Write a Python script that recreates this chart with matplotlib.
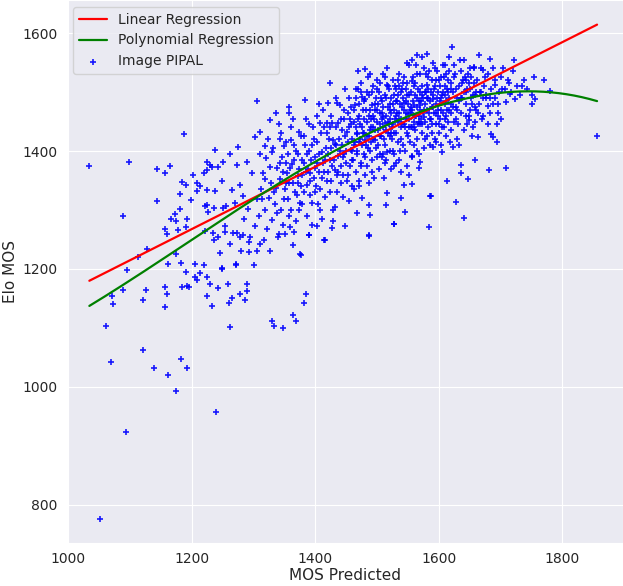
import numpy as np
import seaborn as sns
from matplotlib import pyplot as plt

# scatter values, (MOS predicted, Elo MOS)
left_tail = [
    (1034, 1375), (1051, 777), (1061, 1104), (1069, 1042), (1070, 1155), (1073, 1140), (1089, 1289),
    (1089, 1164), (1093, 923), (1095, 1198), (1098, 1382), (1112, 1220), (1121, 1063), (1121, 1148),
    (1125, 1164), (1127, 1234), (1138, 1032), (1144, 1316), (1144, 1370), (1157, 1362), (1157, 1136),
    (1157, 1170), (1159, 1158), (1157, 1267), (1160, 1260), (1161, 1209), (1161, 1021), (1165, 1374),
    (1166, 1284), (1172, 1294), (1174, 1225), (1174, 1281), (1174, 993), (1178, 1266), (1180, 1327),
    (1181, 1301), (1182, 1211), (1182, 1047), (1184, 1169), (1184, 1347), (1188, 1428), (1190, 1195),
    (1190, 1272), (1191, 1342), (1192, 1172), (1192, 1284), (1192, 1033), (1196, 1169), (1199, 1317),
    (1201, 1360), (1205, 1209), (1205, 1187), (1208, 1181), (1209, 1346), (1209, 1333), (1213, 1193),
    (1220, 1206), (1220, 1362), (1221, 1307), (1224, 1381), (1225, 1187), (1225, 1155), (1226, 1297),
    (1229, 1175), (1232, 1373), (1233, 1137), (1234, 1261), (1238, 1402), (1238, 1332), (1239, 957),
    (1243, 1167), (1243, 1254), (1248, 1350), (1249, 1202), (1251, 1381), (1253, 1273), (1255, 1306),
    (1259, 1175), (1260, 1143), (1262, 1101), (1262, 1242), (1262, 1395), (1265, 1151), (1265, 1334),
    (1270, 1312), (1271, 1207), (1273, 1261), (1273, 1377), (1278, 1158), (1278, 1343), (1282, 1257),
    (1283, 1323), (1285, 1284), (1286, 1148), (1289, 1162), (1289, 1382), (1290, 1175), (1291, 1301),
    (1293, 1228), (1294, 1254), (1297, 1363), (1300, 1207), (1302, 1273), (1305, 1319),
    (1224, 1368), (1229, 1376), (1243, 1373), (1213, 1340), (1224, 1334), (1224, 1308), (1235, 1304),
    (1251, 1304), (1221, 1264), (1235, 1249), (1254, 1262), (1267, 1261), (1246, 1227), (1278, 1255),
    (1292, 1246), (1272, 1208), (1248, 1200), (1275, 1407), (1279, 1231), (1306, 1231),
]

lower_band = [
    (1310, 1242), (1327, 1230), (1375, 1225), (1363, 1240), (1341, 1259), (1359, 1271), (1389, 1258),
    (1415, 1250), (1427, 1269), (1402, 1273), (1429, 1281), (1448, 1273), (1467, 1295), (1487, 1308),
    (1489, 1292), (1514, 1308), (1528, 1276), (1486, 1257), (1369, 1111), (1333, 1103), (1347, 1100),
    (1330, 1112), (1385, 1157), (1382, 1143), (1364, 1122), (1377, 1224), (1487, 1256), (1584, 1272),
    (1640, 1286), (1627, 1314), (1527, 1276), (1545, 1296), (1414, 1249), (1390, 1257),
    (1516, 1329), (1538, 1321), (1587, 1324), (1586, 1323), (1613, 1350), (1544, 1342), (1557, 1344),
    (1538, 1364), (1552, 1360), (1557, 1392), (1568, 1372), (1570, 1382),
]

upper_band = [
    (1302, 1424), (1311, 1432), (1318, 1409), (1343, 1421), (1305, 1484), (1424, 1516), (1448, 1505),
    (1383, 1486), (1357, 1474), (1357, 1465), (1336, 1465), (1327, 1452), (1341, 1446), (1406, 1480),
    (1420, 1482), (1435, 1481), (1481, 1539), (1469, 1535), (1580, 1565), (1565, 1562), (1640, 1555),
]

core = [
    (1308, 1290), (1312, 1335), (1315, 1362), (1318, 1300), (1320, 1388), (1322, 1268), (1325, 1320),
    (1328, 1345), (1330, 1283), (1332, 1405), (1335, 1310), (1337, 1372), (1339, 1255), (1310, 1395),
    (1316, 1250), (1323, 1420), (1333, 1330), (1338, 1295), (1326, 1373), (1313, 1318),
    (1342, 1352), (1344, 1300), (1346, 1390), (1348, 1275), (1350, 1335), (1352, 1415), (1354, 1362),
    (1356, 1318), (1358, 1290), (1360, 1440), (1362, 1378), (1364, 1345), (1366, 1262), (1368, 1400),
    (1370, 1325), (1372, 1357), (1374, 1300), (1376, 1425), (1378, 1385), (1345, 1430), (1349, 1318),
    (1353, 1380), (1357, 1345), (1361, 1300), (1365, 1410), (1369, 1282), (1373, 1370), (1377, 1340),
    (1351, 1260), (1363, 1455), (1367, 1330), (1371, 1395), (1375, 1312), (1379, 1360), (1347, 1365),
    (1355, 1395),
    (1381, 1330), (1383, 1410), (1385, 1365), (1387, 1290), (1389, 1445), (1391, 1350), (1393, 1385),
    (1395, 1312), (1397, 1420), (1399, 1372), (1401, 1340), (1403, 1460), (1405, 1395), (1407, 1300),
    (1409, 1430), (1411, 1355), (1413, 1380), (1415, 1322), (1417, 1405), (1419, 1448), (1382, 1380),
    (1386, 1342), (1390, 1400), (1394, 1275), (1398, 1355), (1402, 1415), (1406, 1365), (1410, 1285),
    (1414, 1440), (1418, 1350), (1384, 1455), (1392, 1325), (1400, 1390), (1408, 1335), (1416, 1385),
    (1388, 1370), (1396, 1440), (1404, 1310), (1412, 1470), (1420, 1365),
    (1421, 1395), (1423, 1330), (1425, 1460), (1427, 1375), (1429, 1418), (1431, 1305), (1433, 1440),
    (1435, 1360), (1437, 1392), (1439, 1478), (1441, 1345), (1443, 1410), (1445, 1322), (1447, 1455),
    (1449, 1380), (1451, 1432), (1453, 1360), (1455, 1490), (1457, 1402), (1459, 1340), (1422, 1420),
    (1426, 1350), (1430, 1385), (1434, 1490), (1438, 1420), (1442, 1375), (1446, 1470), (1450, 1400),
    (1454, 1315), (1458, 1445), (1424, 1440), (1428, 1300), (1432, 1368), (1436, 1448), (1440, 1400),
    (1444, 1360), (1448, 1425), (1452, 1465), (1456, 1375), (1460, 1420), (1425, 1405), (1435, 1330),
    (1445, 1390), (1455, 1440), (1431, 1412), (1441, 1455), (1451, 1350), (1457, 1475),
    (1461, 1385), (1462, 1450), (1463, 1335), (1464, 1415), (1465, 1490), (1466, 1365), (1467, 1430),
    (1468, 1400), (1469, 1505), (1470, 1350), (1471, 1460), (1472, 1420), (1473, 1380), (1474, 1515),
    (1475, 1440), (1476, 1320), (1477, 1470), (1478, 1395), (1479, 1430), (1480, 1360), (1481, 1488),
    (1482, 1410), (1483, 1450), (1484, 1375), (1485, 1525), (1486, 1425), (1487, 1345), (1488, 1470),
    (1489, 1400), (1490, 1440), (1491, 1500), (1492, 1385), (1493, 1460), (1494, 1420), (1495, 1355),
    (1496, 1480), (1497, 1435), (1498, 1405), (1499, 1520), (1500, 1450), (1463, 1470), (1467, 1395),
    (1471, 1340), (1475, 1410), (1479, 1485), (1483, 1425), (1487, 1495), (1491, 1365), (1495, 1455),
    (1499, 1390), (1465, 1440), (1473, 1500), (1481, 1390), (1489, 1530), (1497, 1470), (1469, 1455),
    (1477, 1430), (1485, 1405), (1493, 1510), (1462, 1410), (1470, 1480), (1478, 1455), (1486, 1460),
    (1494, 1440), (1466, 1505), (1474, 1375), (1482, 1470), (1490, 1415), (1498, 1490),
    (1501, 1410), (1502, 1480), (1503, 1370), (1504, 1445), (1505, 1515), (1506, 1425), (1507, 1390),
    (1508, 1465), (1509, 1530), (1510, 1440), (1511, 1355), (1512, 1495), (1513, 1410), (1514, 1460),
    (1515, 1385), (1516, 1540), (1517, 1475), (1518, 1430), (1519, 1505), (1520, 1400), (1521, 1455),
    (1522, 1370), (1523, 1490), (1524, 1420), (1525, 1520), (1526, 1445), (1527, 1395), (1528, 1470),
    (1529, 1510), (1530, 1430), (1531, 1380), (1532, 1485), (1533, 1450), (1534, 1415), (1535, 1530),
    (1536, 1465), (1537, 1400), (1538, 1500), (1539, 1440), (1540, 1475), (1503, 1500), (1507, 1455),
    (1511, 1420), (1515, 1490), (1519, 1445), (1523, 1465), (1527, 1430), (1531, 1505), (1535, 1455),
    (1539, 1420), (1505, 1465), (1509, 1395), (1513, 1525), (1517, 1450), (1521, 1480), (1525, 1400),
    (1529, 1455), (1533, 1520), (1537, 1480), (1502, 1435), (1506, 1490), (1510, 1475), (1514, 1435),
    (1518, 1510), (1522, 1430), (1526, 1480), (1530, 1460), (1534, 1495), (1538, 1455), (1516, 1398),
    (1528, 1375), (1536, 1385), (1504, 1395), (1512, 1380),
    (1541, 1410), (1542, 1490), (1543, 1445), (1544, 1525), (1545, 1400), (1546, 1465), (1547, 1505),
    (1548, 1430), (1549, 1375), (1550, 1480), (1551, 1545), (1552, 1455), (1553, 1415), (1554, 1500),
    (1555, 1440), (1556, 1390), (1557, 1470), (1558, 1525), (1559, 1450), (1560, 1410), (1561, 1495),
    (1562, 1435), (1563, 1545), (1564, 1475), (1565, 1420), (1566, 1505), (1567, 1460), (1568, 1395),
    (1569, 1530), (1570, 1445), (1571, 1485), (1572, 1430), (1573, 1510), (1574, 1465), (1575, 1405),
    (1576, 1540), (1577, 1480), (1578, 1450), (1579, 1500), (1580, 1425), (1543, 1470), (1547, 1455),
    (1551, 1495), (1555, 1475), (1559, 1510), (1563, 1460), (1567, 1485), (1571, 1455), (1575, 1470),
    (1579, 1530), (1545, 1440), (1549, 1515), (1553, 1470), (1557, 1440), (1561, 1460), (1565, 1490),
    (1569, 1470), (1573, 1445), (1577, 1500), (1542, 1515), (1546, 1485), (1550, 1425), (1554, 1465),
    (1558, 1485), (1562, 1515), (1566, 1445), (1570, 1500), (1574, 1490), (1578, 1420), (1548, 1550),
    (1556, 1555), (1564, 1400), (1572, 1560),
    (1581, 1470), (1582, 1505), (1583, 1440), (1584, 1535), (1585, 1410), (1586, 1485), (1587, 1455),
    (1588, 1520), (1589, 1430), (1590, 1495), (1591, 1550), (1592, 1465), (1593, 1420), (1594, 1510),
    (1595, 1480), (1596, 1445), (1597, 1535), (1598, 1470), (1599, 1500), (1600, 1430), (1601, 1485),
    (1602, 1455), (1603, 1525), (1604, 1410), (1605, 1495), (1606, 1465), (1607, 1545), (1608, 1440),
    (1609, 1510), (1610, 1480), (1611, 1425), (1612, 1530), (1613, 1470), (1614, 1500), (1615, 1450),
    (1616, 1560), (1617, 1490), (1618, 1415), (1619, 1515), (1620, 1465), (1583, 1490), (1587, 1500),
    (1591, 1475), (1595, 1520), (1599, 1460), (1603, 1490), (1607, 1500), (1611, 1460), (1615, 1520),
    (1619, 1480), (1585, 1455), (1593, 1540), (1601, 1510), (1609, 1455), (1617, 1535), (1589, 1475),
    (1597, 1490), (1605, 1440), (1613, 1505), (1582, 1525), (1596, 1415), (1610, 1545), (1620, 1435),
    (1622, 1500), (1624, 1450), (1626, 1530), (1628, 1475), (1630, 1420), (1632, 1510), (1634, 1555),
    (1636, 1465), (1638, 1490), (1640, 1435), (1642, 1525), (1644, 1480), (1646, 1505), (1648, 1460),
    (1650, 1540), (1652, 1490), (1654, 1425), (1656, 1515), (1658, 1475), (1660, 1500), (1623, 1475),
    (1627, 1505), (1631, 1445), (1635, 1490), (1639, 1520), (1643, 1460), (1647, 1530), (1651, 1470),
    (1655, 1495), (1659, 1450), (1625, 1545), (1633, 1410), (1641, 1500), (1649, 1515), (1657, 1540),
    (1629, 1490), (1637, 1515), (1645, 1445), (1653, 1480),
]

# extra points filling the densest part of the cloud
core_fill = [
    (1318, 1352), (1329, 1398), (1336, 1338), (1343, 1380), (1349, 1408), (1352, 1345), (1359, 1372),
    (1361, 1418), (1366, 1385), (1371, 1345), (1374, 1433), (1378, 1310), (1381, 1425), (1386, 1395),
    (1392, 1362), (1395, 1410), (1399, 1330), (1403, 1380), (1407, 1448), (1411, 1398), (1414, 1365),
    (1418, 1430), (1423, 1385), (1427, 1448), (1433, 1410), (1437, 1365), (1443, 1435), (1447, 1395),
    (1452, 1415), (1456, 1455), (1459, 1385), (1464, 1478), (1468, 1428), (1472, 1445), (1476, 1492),
    (1480, 1418), (1484, 1500), (1488, 1435), (1492, 1478), (1496, 1418), (1500, 1505), (1504, 1425),
    (1508, 1485), (1512, 1448), (1516, 1512), (1520, 1470), (1524, 1440), (1528, 1495), (1532, 1465),
    (1536, 1510), (1540, 1445), (1544, 1482), (1548, 1495), (1552, 1440), (1556, 1518), (1560, 1478),
    (1564, 1530), (1568, 1450), (1572, 1495), (1576, 1458), (1580, 1512), (1584, 1465), (1588, 1445),
    (1592, 1505), (1596, 1465), (1600, 1520), (1604, 1470), (1608, 1525), (1612, 1485), (1616, 1470),
    (1620, 1505), (1624, 1525), (1628, 1455), (1632, 1485), (1636, 1535), (1644, 1500), (1652, 1525),
    (1658, 1495), (1490, 1455), (1510, 1458), (1530, 1485), (1550, 1462), (1570, 1478), (1590, 1488),
    (1610, 1495), (1630, 1470), (1470, 1415), (1460, 1400), (1500, 1470), (1520, 1425), (1540, 1505),
    (1560, 1440), (1580, 1490), (1600, 1445),
]

right_tail = [
    (1662, 1520), (1665, 1480), (1668, 1540), (1670, 1455), (1673, 1510), (1676, 1495), (1679, 1530),
    (1682, 1465), (1685, 1505), (1688, 1480), (1691, 1520), (1694, 1445), (1697, 1500), (1700, 1525),
    (1663, 1465), (1671, 1490), (1679, 1445), (1687, 1540), (1695, 1480), (1667, 1500), (1675, 1525),
    (1683, 1490), (1703, 1540), (1707, 1505), (1712, 1520), (1716, 1500), (1720, 1535), (1726, 1510),
    (1731, 1495), (1742, 1505),
    (1856, 1426), (1708, 1372), (1681, 1367), (1659, 1384), (1636, 1377), (1635, 1362), (1647, 1353),
    (1770, 1520), (1754, 1526), (1780, 1502), (1750, 1495), (1756, 1488), (1750, 1480), (1738, 1521),
    (1723, 1489), (1721, 1555), (1735, 1511), (1713, 1515), (1708, 1483), (1701, 1454), (1695, 1464),
    (1694, 1416), (1685, 1429), (1688, 1424), (1664, 1424), (1621, 1577), (1665, 1563), (1683, 1556),
    (1622, 1406), (1605, 1398), (1591, 1406), (1656, 1543), (1672, 1538), (1690, 1512), (1702, 1505),
    (1715, 1497), (1668, 1500), (1677, 1490), (1660, 1470), (1672, 1460), (1648, 1452), (1655, 1440),
    (1680, 1476), (1690, 1490), (1643, 1520), (1650, 1505),
]

# fitted lines
lin_slope = 0.5282
lin_intercept = 633.9
poly_x = [1035, 1314, 1505, 1537, 1594, 1667, 1748, 1801, 1858]
poly_y = [1138, 1328, 1439, 1451, 1477, 1494, 1501, 1497, 1484]

pts = np.array(left_tail + lower_band + upper_band + core + core_fill + right_tail, dtype=float)
mos_pred = pts[:, 0]
elo_mos = pts[:, 1]

sns.set_style("darkgrid")

fig = plt.figure(figsize=(6.23, 5.86), dpi=100)
ax = fig.add_axes([66.5 / 623, 42.7 / 586, 556.5 / 623, 543.3 / 586])

xs = np.linspace(mos_pred.min(), mos_pred.max(), 200)
ax.plot(xs, lin_slope * xs + lin_intercept, color="red", lw=1.6, label="Linear Regression")
coef = np.polyfit(poly_x, poly_y, 3)
ax.plot(xs, np.polyval(coef, xs), color="green", lw=1.6, label="Polynomial Regression")
ax.scatter(mos_pred, elo_mos, marker="+", color="blue", s=22, linewidths=1.2, alpha=0.9,
           label="Image PIPAL")

ax.set_xlim(997, 1898)
ax.set_ylim(735, 1656)
ax.set_xticks([1000, 1200, 1400, 1600, 1800])
ax.set_yticks([800, 1000, 1200, 1400, 1600])
ax.tick_params(labelsize=10, pad=3)
ax.set_xlabel("MOS Predicted", fontsize=11, labelpad=1)
ax.set_ylabel("Elo MOS", fontsize=11, labelpad=3)
ax.legend(loc="upper left", fontsize=10)

fig.savefig("out.png", dpi=100)
